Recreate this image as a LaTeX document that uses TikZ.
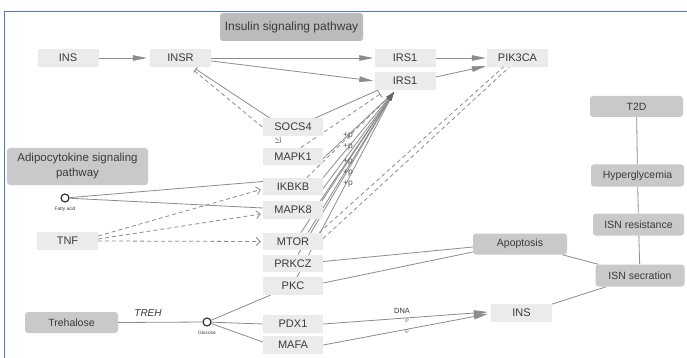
\documentclass[tikz,border=0pt]{standalone}
\usepackage{fontspec}
\setmainfont{Liberation Sans}
\usetikzlibrary{arrows.meta,backgrounds,calc}
\definecolor{boxlight}{HTML}{EBEBEB}
\definecolor{boxdark}{HTML}{C9C9C9}
\definecolor{boxdarker}{HTML}{BBBBBB}
\definecolor{linec}{HTML}{8C8C8C}
\definecolor{txtc}{HTML}{3A3A3A}
\definecolor{frameblue}{HTML}{4A7EC8}
\begin{document}
\begin{tikzpicture}[x=1pt,y=-1pt,
  lightbox/.style={fill=boxlight, minimum width=61pt, minimum height=17.5pt, inner sep=0pt, text=txtc, font=\fontsize{11}{12}\selectfont},
  darkbox/.style={fill=boxdark, rounded corners=3pt, inner sep=0pt, text=txtc, font=\fontsize{10.5}{12}\selectfont},
  edge/.style={draw=linec, line width=0.8pt},
  dedge/.style={edge, dash pattern=on 4pt off 3pt},
  bigtip/.style={-{Triangle[length=14pt,width=5.5pt]}},
  fantip/.style={-{Triangle[length=9pt,width=3.5pt,color=black!60]}},
  opentip/.style={-{Straight Barb[length=4pt,width=8pt]}},
  teetip/.style={-{Bar[width=8pt]}},
  small/.style={text=txtc, inner sep=0pt},
  mol/.style={circle, draw=black!85, line width=1.1pt, fill=white, minimum size=8pt, inner sep=0pt}
]
\useasboundingbox (0,0) rectangle (687,358);

% nodes
\node[darkbox, fill=boxdarker, minimum width=143pt, minimum height=28pt, font=\fontsize{12}{13}\selectfont] (isp) at (291.5,27) {Insulin signaling pathway};
\node[lightbox] (ins) at (68,58) {INS};
\node[lightbox] (insr) at (180.5,58) {INSR};
\node[lightbox] (irsa) at (405,58) {IRS1};
\node[lightbox] (irsb) at (405,81) {IRS1};
\node[lightbox] (pik) at (517.5,58) {PIK3CA};
\node[lightbox, minimum width=60pt] (socs) at (293,127) {SOCS4};
\node[lightbox, minimum width=60pt] (mapk1) at (293,156.5) {MAPK1};
\node[lightbox, minimum width=60pt] (ikbkb) at (293,186.5) {IKBKB};
\node[lightbox, minimum width=60pt] (mapk8) at (293,210) {MAPK8};
\node[lightbox, minimum width=60pt] (mtor) at (293,241.5) {MTOR};
\node[lightbox, minimum width=60pt] (prkcz) at (293,263.5) {PRKCZ};
\node[lightbox, minimum width=60pt] (pkc) at (293,286) {PKC};
\node[lightbox, minimum width=60pt] (pdx1) at (293,324) {PDX1};
\node[lightbox, minimum width=60pt] (mafa) at (293,345) {MAFA};
\node[lightbox] (tnf) at (67.5,241) {TNF};
\node[lightbox] (ins2) at (521.5,313) {INS};
\node[darkbox, minimum width=141pt, minimum height=37pt, align=center, font=\fontsize{11.5}{15}\selectfont] (adipo) at (77.5,166.5) {Adipocytokine signaling\\pathway};
\node[darkbox, minimum width=93pt, minimum height=21pt] (treha) at (71.5,322.5) {Trehalose};
\node[darkbox, minimum width=94pt, minimum height=21pt] (apop) at (520,244) {Apoptosis};
\node[darkbox, minimum width=93pt, minimum height=21pt] (t2d) at (636.5,106.5) {T2D};
\node[darkbox, minimum width=93pt, minimum height=22pt] (hyper) at (637.5,175.5) {Hyperglycemia};
\node[darkbox, minimum width=91pt, minimum height=22pt] (isnres) at (638.5,224.5) {ISN resistance};
\node[darkbox, minimum width=89pt, minimum height=22pt] (isnsec) at (640,275.5) {ISN secration};

\node[mol] (fa) at (65,198) {};
\node[small, font=\fontsize{4.8}{5}\selectfont] (falab) at (65,209) {Fatty acid};
\node[mol] (glc) at (207,322) {};
\node[small, font=\fontsize{4.8}{5}\selectfont] (glclab) at (207,333) {Glucose};
\node[small, font=\itshape\fontsize{10}{12}\selectfont] (treh) at (148,313.5) {TREH};
\node[small, font=\fontsize{7.5}{9}\selectfont] (dna) at (402,311) {DNA};
\node[small, text=linec, font=\fontsize{7}{8}\selectfont] (ea) at (407,321) {e};
\node[small, text=linec, font=\fontsize{7}{8}\selectfont] (eb) at (407,332) {e};

\foreach \yy/\nm in {136/pa,147/pb,162/pc,173/pd,184/pe}
  \node[small, text=black!65, font=\fontsize{8.5}{9}\selectfont] (\nm) at (348,\yy) {+p};

\coordinate (conv) at (394,92);
\coordinate (tee) at ($(irsb.south west)+(6,4)$);

% edges
\begin{scope}[on background layer]
\fill[white] (0,0) rectangle (687,358);
\draw[edge,bigtip,shorten >=3pt] (ins) -- (insr);
\draw[edge,bigtip,shorten >=1pt] (insr.east) -- (irsa.west);
\draw[edge,bigtip,shorten >=1pt] ($(insr.east)+(0,3)$) -- (irsb.west);
\draw[edge,bigtip,shorten >=1pt] (irsa.east) -- (pik.west);
\draw[edge,bigtip,shorten >=1pt] ($(irsb.east)+(0,-4)$) -- ($(pik.south west)+(0,-1)$);

\draw[edge,teetip] ($(socs.north west)+(7,0)$) -- ($(insr.south)+(15,2)$);
\draw[dedge,opentip] ($(insr.south)+(14,4)$) -- ($(mapk1.north)+(-12,-5)$);
\draw[edge] ($(socs.north east)+(-8,0)$) -- ($(irsb.south west)+(4,0)$);
\draw[dedge,teetip] ($(mapk1.north)+(8,0)$) -- (tee);
\draw[dedge] ($(ikbkb.north)+(14,0)$) -- (conv);

\draw[edge,fantip] ($(mapk1.east)+(0,2)$) -- (conv);
\draw[edge,fantip] (ikbkb.north east) -- (conv);
\draw[edge,fantip] ($(ikbkb.east)+(0,2)$) -- (conv);
\draw[edge,fantip] ($(mapk8.north east)+(-3,0)$) -- (conv);
\draw[edge,fantip] ($(mtor.north)+(8,0)$) -- (conv);
\draw[edge,fantip] ($(mtor.north)+(15,0)$) -- (conv);
\draw[edge,fantip] ($(prkcz.north)+(5,0)$) -- (conv);
\draw[edge,fantip] ($(pkc.north)+(4,0)$) -- (conv);

\draw[dedge] ($(mtor.north east)+(-4,0)$) -- ($(pik.south)+(-14,0)$);
\draw[dedge] ($(mtor.east)+(0,-3)$) -- ($(pik.south)+(-8,0)$);

\draw[edge] (fa) -- ($(ikbkb.west)+(0,-5)$);
\draw[edge] (fa) -- ($(mapk8.west)+(0,-2)$);
\draw[dedge,opentip] ($(tnf.east)+(0,-5)$) -- ($(ikbkb.west)+(-2,3)$);
\draw[dedge,opentip] ($(tnf.east)+(0,-2)$) -- ($(mapk8.west)+(-2,4)$);
\draw[dedge,opentip] (tnf.east) -- ($(mtor.west)+(-2,0)$);

\draw[edge] (treha.east) -- (glc);
\draw[edge] (glc) -- ($(pkc.south west)+(8,0)$);
\draw[edge] (glc) -- (pdx1.west);
\draw[edge] (glc) -- ($(mafa.west)+(0,-3)$);

\draw[edge] ($(prkcz.east)+(0,-2)$) -- ($(apop.west)+(0,3)$);
\draw[edge] ($(pkc.east)+(0,-3)$) -- ($(apop.west)+(0,8)$);

\draw[edge,bigtip] (pdx1.east) -- ($(ins2.west)+(-3,-1)$);
\draw[edge,bigtip] (mafa.east) -- ($(ins2.west)+(-3,1)$);

\draw[edge] (t2d) -- (hyper);
\draw[edge] (hyper) -- (isnres);
\draw[edge] (isnres) -- (isnsec);
\draw[edge] ($(apop.south east)+(-5,0)$) -- ($(isnsec.north west)+(3,0)$);
\draw[edge] (ins2.north east) -- ($(isnsec.south west)+(11,0)$);
\end{scope}

\draw[frameblue, line width=1pt] (4,358) -- (4,12) -- (687,12);
\end{tikzpicture}
\end{document}
